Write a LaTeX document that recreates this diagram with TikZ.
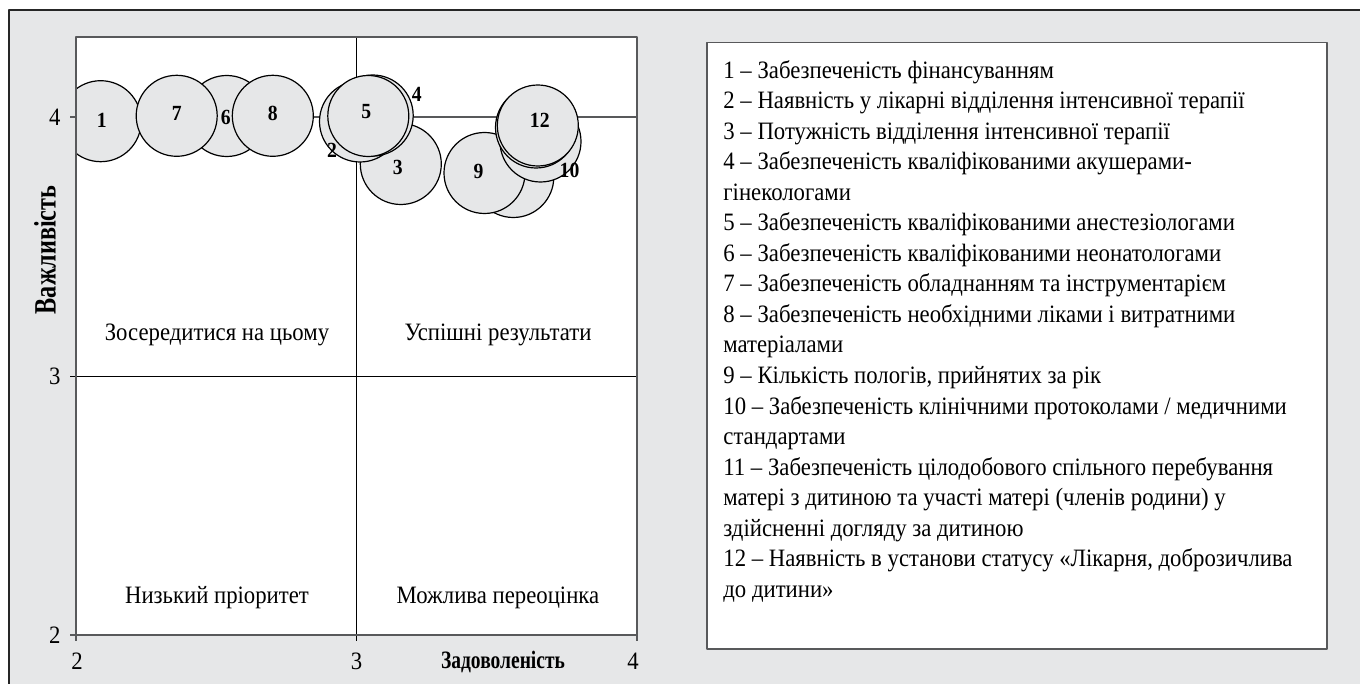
\documentclass[tikz,border=0pt]{standalone}
\usepackage{fontspec}
\setmainfont[FakeStretch=0.91]{Liberation Serif}
\newfontfamily\axisfont[FakeStretch=0.78]{Liberation Serif}
\usepackage{tikz}
\usetikzlibrary{positioning}

\definecolor{panelgray}{HTML}{E6E7E8}
\definecolor{framegray}{HTML}{58595B}

\begin{document}
\begin{tikzpicture}[
    x = 0.5pt, y = -0.5pt, % one unit = one pixel, y downwards
    font = \fontsize{12.5}{15}\selectfont,
    line join = round
    ]

    \tikzset{
    bubble/.style = {circle, draw = black, line width = 0.6pt, fill = panelgray,
        minimum size = 40.5pt, inner sep = 0pt},
    num/.style = {font = \fontsize{10.8}{12}\selectfont\bfseries, inner sep = 0pt},
    axlabel/.style = {font = \axisfont\fontsize{12.5}{13}\selectfont\bfseries, inner sep = 0pt},
    quad/.style = {inner sep = 0pt},
    axis/.style = {framegray, line width = 0.75pt},
    grid3/.style = {black, line width = 0.5pt}
    }

    \useasboundingbox (0,0) rectangle (1360,684);
    \fill[panelgray] (9,10) rectangle (1360,684);
    \draw[black!85, line width = 0.7pt] (9,684) -- (9,10) -- (1360,10);

    % plot area
    \coordinate (pNW) at (76,37);
    \coordinate (pSE) at (637,635);
    \fill[white] (pNW) rectangle (pSE);
    \draw[axis] (70,117) -- (637,117);
    \draw[grid3] (70,376) -- (637,376);
    \draw[grid3] (356.5,37) -- (356.5,641);
    \draw[axis] (70,635) -- (76,635);
    \draw[axis] (76,635) -- (76,641);
    \draw[axis] (637,635) -- (637,641);

    % bubbles
    \begin{scope}
    \clip (pNW) rectangle (pSE);
    \node[bubble] (b1) at (100.7,121.2) {};
    \node[bubble] (b6) at (226.7,116) {};
    \node[bubble] (b7) at (176.7,115.8) {};
    \node[bubble] (b8) at (272.8,115.8) {};
    \node[bubble] (b3) at (400.8,164) {};
    \node[bubble] (b2) at (360,121.5) {};
    \node[bubble] (b4) at (372.7,115.5) {};
    \node[bubble] (b5) at (368.3,116) {};
    \node[bubble] (b11) at (513.3,177) {};
    \node[bubble] (b9) at (484.5,173) {};
    \node[bubble] (b10) at (540.5,141.5) {};
    \node[bubble] (b12a) at (536,127.5) {};
    \node[bubble] (b12) at (537.8,125.5) {};
    \end{scope}
    \draw[axis] (pNW) rectangle (pSE);

    \node[num] (l1) at ([shift={(1,-1)}]b1) {1};
    \node[num] (l7) at ([shift={(0,-2)}]b7) {7};
    \node[num] (l6) at ([shift={(-1,1)}]b6) {6};
    \node[num] (l8) at ([shift={(0,-2)}]b8) {8};
    \node[num] (l2) at ([shift={(-28,29)}]b2) {2};
    \node[num] (l5) at ([shift={(-2,-4)}]b5) {5};
    \node[num] (l4) at ([shift={(44,-21)}]b4) {4};
    \node[num] (l3) at ([shift={(-3,3)}]b3) {3};
    \node[num] (l9) at ([shift={(-6,-2)}]b9) {9};
    \node[num] (l10) at ([shift={(29,29)}]b10) {10};
    \node[num] (l12) at ([shift={(2,-5)}]b12) {12};

    % quadrant names
    \node[quad] (qfocus) at (217,335) {Зосередитися на цьому};
    \node[quad] (qgood) at (498,335) {Успішні результати};
    \node[quad] (qlow) at (217,598) {Низький пріоритет};
    \node[quad] (qover) at (498,598) {Можлива переоцінка};

    % axes
    \node[quad, anchor=east] (y4) at (61,117) {4};
    \node[quad, anchor=east] (y3) at (61,376) {3};
    \node[quad, anchor=east] (y2) at (61,635) {2};
    \node[quad] (x2) at (77,661) {2};
    \node[quad] (x3) at (356.5,661) {3};
    \node[quad] (x4) at (633,661) {4};
    \node[axlabel] (xname) at (503,662) {Задоволеність};
    \node[axlabel, font = \axisfont\fontsize{15.5}{16}\selectfont\bfseries, rotate=90] (yname) at (45,250) {Важливість};

    % legend
    \node[draw = framegray, line width = 0.75pt, fill = white, minimum width = 310pt,
        minimum height = 303pt, anchor = north west, inner sep = 0pt] (legbox) at (706,42) {};
    \node[anchor = north west, inner sep = 0pt, align = left,
        font = \fontsize{12.5}{15.26}\selectfont] (legtext) at (723,60) {%
    1 -- Забезпеченість фінансуванням\\
    2 -- Наявність у лікарні відділення інтенсивної терапії\\
    3 -- Потужність відділення інтенсивної терапії\\
    4 -- Забезпеченість кваліфікованими акушерами-\\
    гінекологами\\
    5 -- Забезпеченість кваліфікованими анестезіологами\\
    6 -- Забезпеченість кваліфікованими неонатологами\\
    7 -- Забезпеченість обладнанням та інструментарієм\\
    8 -- Забезпеченість необхідними ліками і витратними\\
    матеріалами\\
    9 -- Кількість пологів, прийнятих за рік\\
    10 -- Забезпеченість клінічними протоколами / медичними\\
    стандартами\\
    11 -- Забезпеченість цілодобового спільного перебування\\
    матері з дитиною та участі матері (членів родини) у\\
    здійсненні догляду за дитиною\\
    12 -- Наявність в установи статусу «Лікарня, доброзичлива\\
    до дитини»};
\end{tikzpicture}
\end{document}
